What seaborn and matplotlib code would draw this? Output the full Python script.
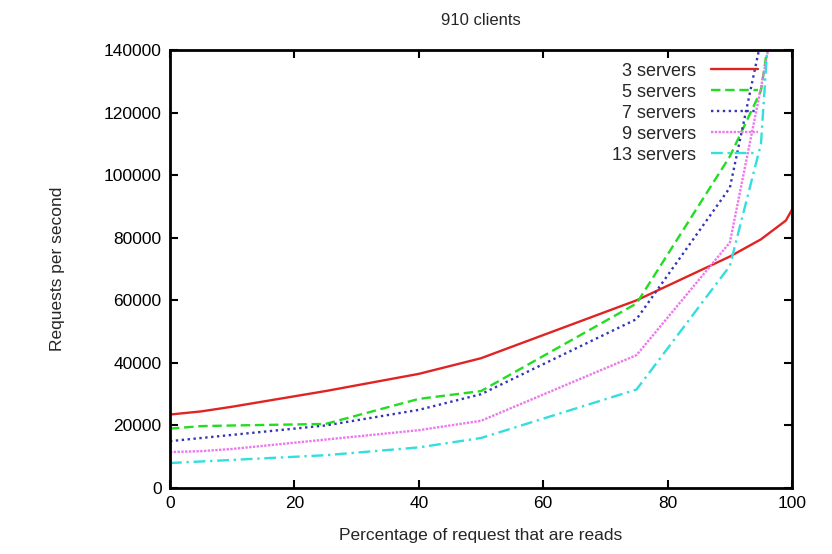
import numpy as np
import pandas as pd
import matplotlib
matplotlib.use("Agg")
import matplotlib.pyplot as plt
import seaborn as sns

# percentage of requests that are reads
pct_reads = [0, 5, 10, 25, 40, 50, 75, 90, 95, 99, 100]

servers_3 = [23500, 24500, 26000, 31000, 36500, 41500, 60000, 74000, 79500, 85500, 89000]
servers_5 = [19000, 19800, 20000, 20500, 28500, 31000, 59000, 106000, 127000, 180000, 190000]
servers_7 = [15000, 16000, 17000, 20000, 25000, 30000, 54000, 96000, 143000, 195000, 200000]
servers_9 = [11500, 11800, 12500, 15500, 18500, 21500, 42500, 78500, 128000, 170000, 180000]
servers_13 = [8000, 8500, 9000, 10500, 13000, 16000, 31500, 71000, 110000, 230000, 250000]

labels = ["3 servers", "5 servers", "7 servers", "9 servers", "13 servers"]
series = [servers_3, servers_5, servers_7, servers_9, servers_13]
colors = ["#e02424", "#22dd22", "#3535b5", "#ee77ee", "#33dede"]
dashes = [(None, None), (4, 2), (1, 1.5), (1, 0.6), (5, 2, 1, 2)]

sns.set_style("ticks")
plt.rcParams["font.family"] = ["Liberation Sans", "DejaVu Sans"]

fig = plt.figure(figsize=(8.32, 5.54), dpi=100)
ax = fig.add_axes([0.2043, 0.119, 0.7477, 0.7907])

for lab, vals, col, dsh in zip(labels, series, colors, dashes):
    df = pd.DataFrame({"pct": pct_reads, "rps": vals})
    sns.lineplot(data=df, x="pct", y="rps", ax=ax, color=col,
                 linewidth=1.7, label=lab)
    l = ax.get_lines()[-1]
    if dsh[0] is not None:
        l.set_dashes(dsh)

ax.set_xlim(0, 100)
ax.set_ylim(0, 140000)
ax.set_xticks(np.arange(0, 101, 20))
ax.set_yticks(np.arange(0, 140001, 20000))
ax.tick_params(direction="in", length=6, width=1.5, top=True, right=True,
               labelsize=12.5, pad=6, colors="black")
for sp in ax.spines.values():
    sp.set_linewidth(2)
    sp.set_color("black")
    sp.set_visible(True)

ax.set_title("910 clients", fontsize=12, pad=18)
ax.set_xlabel("Percentage of request that are reads", fontsize=12.5, labelpad=12)
ax.set_ylabel("Requests per second", fontsize=12.5, labelpad=28)

ax.legend(loc="upper right", frameon=False, markerfirst=False, fontsize=13,
          handlelength=2.6, labelspacing=0.22, borderaxespad=0.3,
          bbox_to_anchor=(0.965, 1.0))

fig.savefig("out.png", dpi=100)
